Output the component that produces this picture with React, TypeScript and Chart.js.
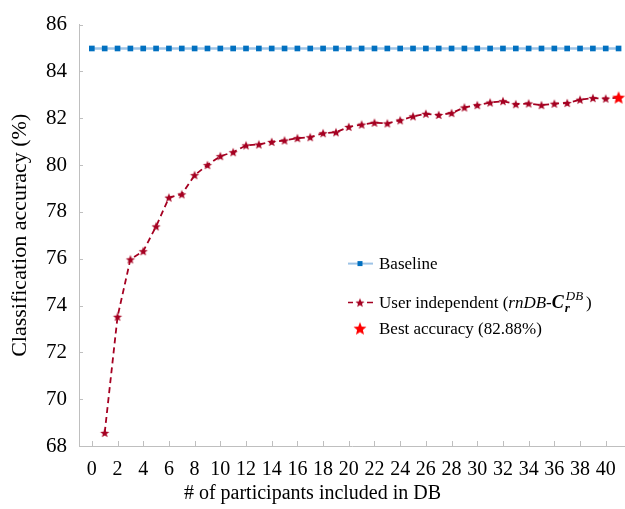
import React, { useEffect, useRef } from "react";
import { Chart, registerables } from "chart.js";

Chart.register(...registerables);

const PARTICIPANTS = [
  1, 2, 3, 4, 5, 6, 7, 8, 9, 10, 11, 12, 13, 14, 15, 16, 17, 18, 19, 20, 21,
  22, 23, 24, 25, 26, 27, 28, 29, 30, 31, 32, 33, 34, 35, 36, 37, 38, 39, 40, 41,
];
const USER_INDEPENDENT = [
  68.56, 73.52, 75.97, 76.32, 77.38, 78.61, 78.75, 79.57, 80.0, 80.38, 80.55,
  80.84, 80.88, 80.99, 81.05, 81.15, 81.19, 81.36, 81.4, 81.63, 81.73, 81.81,
  81.78, 81.91, 82.08, 82.19, 82.14, 82.22, 82.46, 82.56, 82.67, 82.73, 82.6,
  82.63, 82.56, 82.62, 82.65, 82.79, 82.86, 82.84, 82.88,
];
const BASELINE_X = [
  0, 1, 2, 3, 4, 5, 6, 7, 8, 9, 10, 11, 12, 13, 14, 15, 16, 17, 18, 19, 20, 21,
  22, 23, 24, 25, 26, 27, 28, 29, 30, 31, 32, 33, 34, 35, 36, 37, 38, 39, 40, 41,
];
const BASELINE = [
  84.98, 84.98, 84.98, 84.98, 84.98, 84.98, 84.98, 84.98, 84.98, 84.98, 84.98,
  84.98, 84.98, 84.98, 84.98, 84.98, 84.98, 84.98, 84.98, 84.98, 84.98, 84.98,
  84.98, 84.98, 84.98, 84.98, 84.98, 84.98, 84.98, 84.98, 84.98, 84.98, 84.98,
  84.98, 84.98, 84.98, 84.98, 84.98, 84.98, 84.98, 84.98, 84.98,
];
const BEST_X = [41];
const BEST_Y = [82.88];
const X_TICKS = [0, 2, 4, 6, 8, 10, 12, 14, 16, 18, 20, 22, 24, 26, 28, 30, 32, 34, 36, 38, 40];
const Y_TICKS = [68, 70, 72, 74, 76, 78, 80, 82, 84, 86];

const SERIF = "'Liberation Serif', 'Times New Roman', serif";
const DARK_RED = "#A50021";
const BEST_RED = "#FF0000";
const BLUE = "#0070C0";
const LIGHT_BLUE = "#9DC3E6";
const AXIS_GREY = "#BFBFBF";

function drawStarPath(ctx: CanvasRenderingContext2D, cx: number, cy: number, ro: number, ri: number) {
  ctx.beginPath();
  for (let i = 0; i < 10; i++) {
    const r = i % 2 === 0 ? ro : ri;
    const a = -Math.PI / 2 + (i * Math.PI) / 5;
    const px = cx + r * Math.cos(a);
    const py = cy + r * Math.sin(a);
    if (i === 0) ctx.moveTo(px, py);
    else ctx.lineTo(px, py);
  }
  ctx.closePath();
}

function makeStar(ro: number, ri: number, fill: string): HTMLCanvasElement {
  const size = Math.ceil(ro * 2 + 2);
  const c = document.createElement("canvas");
  c.width = size;
  c.height = size;
  const ctx = c.getContext("2d")!;
  drawStarPath(ctx, size / 2, size / 2 + 0.4, ro, ri);
  ctx.fillStyle = fill;
  ctx.fill();
  return c;
}

export default function App() {
  const ref = useRef<HTMLCanvasElement | null>(null);

  useEffect(() => {
    if (!ref.current) return;
    const smallStar = makeStar(4.8, 2.1, DARK_RED);
    const bigStar = makeStar(6.8, 3.0, BEST_RED);

    const legendPlugin = {
      id: "customLegend",
      afterDraw(chart: any) {
        const ctx: CanvasRenderingContext2D = chart.ctx;
        const ca = chart.chartArea;
        const x0 = ca.left + 269;
        const y1 = ca.top + 239;
        const y2 = ca.top + 278;
        const y3 = ca.top + 304;
        const mx = x0 + 12;
        const tx = x0 + 31;
        ctx.save();
        // row 1: baseline
        ctx.strokeStyle = LIGHT_BLUE;
        ctx.lineWidth = 2;
        ctx.beginPath();
        ctx.moveTo(x0, y1);
        ctx.lineTo(x0 + 25, y1);
        ctx.stroke();
        ctx.fillStyle = BLUE;
        ctx.fillRect(mx - 2.5, y1 - 2.5, 5, 5);
        // row 2: dashed
        ctx.strokeStyle = DARK_RED;
        ctx.lineWidth = 1.5;
        ctx.beginPath();
        ctx.moveTo(x0, y2);
        ctx.lineTo(x0 + 5, y2);
        ctx.moveTo(x0 + 19, y2);
        ctx.lineTo(x0 + 25, y2);
        ctx.stroke();
        ctx.drawImage(smallStar, mx - smallStar.width / 2, y2 - smallStar.height / 2);
        // row 3: best
        ctx.drawImage(bigStar, mx - bigStar.width / 2, y3 - bigStar.height / 2);

        ctx.fillStyle = "#000";
        ctx.textBaseline = "middle";
        ctx.textAlign = "left";
        ctx.font = `17px ${SERIF}`;
        ctx.fillText("Baseline", tx, y1 + 1);
        ctx.fillText("Best accuracy (82.88%)", tx, y3 + 1);

        let cx = tx;
        const seg = (text: string, font: string, dy: number) => {
          ctx.font = font;
          ctx.fillText(text, cx, y2 + 1 + dy);
          cx += ctx.measureText(text).width;
        };
        seg("User independent (", `17px ${SERIF}`, 0);
        seg("rnDB-", `italic 17px ${SERIF}`, 0);
        seg("C", `italic bold 18px ${SERIF}`, 0);
        const subX = cx + 1;
        ctx.font = `italic bold 13px ${SERIF}`;
        ctx.fillText("r", subX, y2 + 6);
        const subW = ctx.measureText("r").width;
        ctx.font = `italic 13px ${SERIF}`;
        ctx.fillText("DB", subX + 1, y2 - 6);
        const supW = ctx.measureText("DB").width + 1;
        cx = subX + Math.max(subW, supW) + 3;
        seg(")", `17px ${SERIF}`, 0);

        // x-axis title, centred on the figure
        ctx.font = `20px ${SERIF}`;
        ctx.textAlign = "center";
        ctx.fillText("# of participants included in DB", chart.width / 2, 494);
        ctx.restore();
      },
    };

    const chart = new Chart(ref.current, {
      type: "line",
      data: {
        datasets: [
          {
            label: "Best accuracy (82.88%)",
            data: BEST_X.map((x, i) => ({ x, y: BEST_Y[i] })),
            showLine: false,
            pointStyle: bigStar as any,
            pointRadius: 7,
            borderColor: BEST_RED,
            backgroundColor: BEST_RED,
            clip: false,
          },
          {
            label: "User independent",
            data: PARTICIPANTS.map((x, i) => ({ x, y: USER_INDEPENDENT[i] })),
            borderColor: DARK_RED,
            borderWidth: 1.8,
            borderDash: [6, 4],
            pointStyle: smallStar as any,
            pointRadius: 5,
            tension: 0,
            clip: false,
          },
          {
            label: "Baseline",
            data: BASELINE_X.map((x, i) => ({ x, y: BASELINE[i] })),
            borderColor: LIGHT_BLUE,
            borderWidth: 2.5,
            pointStyle: "rect",
            pointRadius: 4,
            pointBackgroundColor: BLUE,
            pointBorderColor: BLUE,
            pointBorderWidth: 0,
            tension: 0,
            clip: false,
          },
        ],
      },
      options: {
        animation: false,
        responsive: false,
        layout: { autoPadding: false, padding: { top: 22, right: 0, left: 0, bottom: 0 } },
        plugins: {
          legend: { display: false },
          tooltip: { enabled: false },
        },
        scales: {
          x: {
            type: "linear",
            min: -1,
            max: 41.5,
            afterBuildTicks: (s: any) => {
              s.ticks = X_TICKS.map((v) => ({ value: v }));
            },
            afterFit: (s: any) => {
              s.height = 63;
              s.paddingLeft = 0;
              s.paddingRight = 0;
            },
            grid: { display: false, drawTicks: false },
            border: { display: true, color: AXIS_GREY, width: 1 },
            ticks: {
              color: "#000",
              font: { family: SERIF, size: 20 },
              padding: 12,
              maxRotation: 0,
              autoSkip: false,
            },
            title: { display: false },
          },
          y: {
            type: "linear",
            min: 68,
            max: 86,
            afterBuildTicks: (s: any) => {
              s.ticks = Y_TICKS.map((v) => ({ value: v }));
            },
            afterFit: (s: any) => {
              s.width = 79;
            },
            grid: { display: false, drawTicks: false },
            border: { display: true, color: AXIS_GREY, width: 1 },
            ticks: {
              color: "#000",
              font: { family: SERIF, size: 21 },
              padding: 12,
            },
            title: {
              display: true,
              text: "Classification accuracy (%)",
              color: "#000",
              font: { family: SERIF, size: 22 },
              padding: { top: 7, bottom: 0 },
            },
          },
        },
      },
      plugins: [
        legendPlugin,
        {
          id: "inwardTicks",
          afterDatasetsDraw(chart: any) {
            const ctx: CanvasRenderingContext2D = chart.ctx;
            const xs = chart.scales.x;
            const ys = chart.scales.y;
            const ca = chart.chartArea;
            ctx.save();
            ctx.strokeStyle = AXIS_GREY;
            ctx.lineWidth = 1;
            ctx.beginPath();
            X_TICKS.forEach((v) => {
              const px = Math.round(xs.getPixelForValue(v)) + 0.5;
              ctx.moveTo(px, ca.bottom);
              ctx.lineTo(px, ca.bottom - 5);
            });
            Y_TICKS.forEach((v) => {
              const py = Math.round(ys.getPixelForValue(v)) + 0.5;
              ctx.moveTo(ca.left, py);
              ctx.lineTo(ca.left + 4, py);
            });
            ctx.stroke();
            ctx.restore();
          },
        },
      ],
    } as any);
    return () => chart.destroy();
  }, []);

  return (
    <div style={{ position: "fixed", left: 0, top: 0, width: 625, height: 509, background: "#fff" }}>
      <canvas ref={ref} width={625} height={509} />
    </div>
  );
}
